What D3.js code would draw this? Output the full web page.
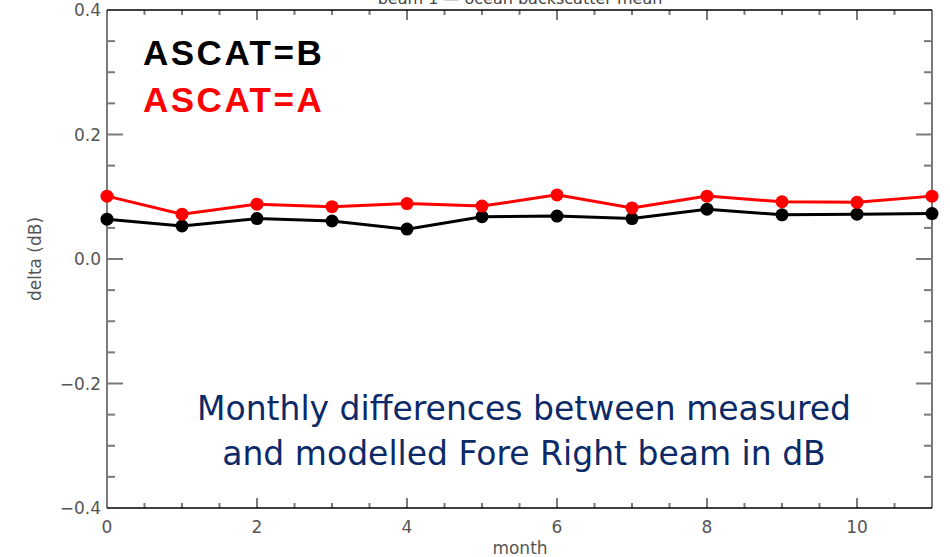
<!DOCTYPE html>
<html>
<head>
<meta charset="utf-8">
<script src="https://cdn.jsdelivr.net/npm/d3@7/dist/d3.min.js"></script>
<style>
  body { margin: 0; background: #fff; }
  svg { display: block; }
</style>
</head>
<body>
<div id="chart"></div>
<script>
  // monthly delta (dB)
  const months = [0, 1, 2, 3, 4, 5, 6, 7, 8, 9, 10, 11];
  const ascatA = [0.101, 0.072, 0.088, 0.084, 0.089, 0.085, 0.103, 0.082, 0.101, 0.092, 0.091, 0.101];
  const ascatB = [0.064, 0.053, 0.065, 0.061, 0.048, 0.068, 0.069, 0.065, 0.080, 0.071, 0.072, 0.073];
  const xTicks = [0, 2, 4, 6, 8, 10];
  const yTicks = [-0.4, -0.2, 0.0, 0.2, 0.4];

  const W = 950, H = 557;
  const margin = { left: 107, right: 18, top: 10, bottom: 49 };

  const svg = d3.select("#chart").append("svg").attr("width", W).attr("height", H);

  const x = d3.scaleLinear().domain([0, 11]).range([margin.left, W - margin.right]);
  const y = d3.scaleLinear().domain([-0.4, 0.4]).range([H - margin.bottom, margin.top]);

  const tickGray = "#7a7a7a";
  const labelFont = "'DejaVu Sans', sans-serif";

  // title sits mostly above the picture, as in the source image
  svg.append("text")
    .attr("x", 520).attr("y", 4)
    .attr("text-anchor", "middle")
    .attr("font-family", labelFont).attr("font-size", 16).attr("fill", "#444")
    .text("beam 1 \u2014 ocean backscatter mean");

  // minor / major ticks
  const xMinor = d3.range(0, 11.01, 0.5);
  const yMinor = d3.range(-0.4, 0.401, 0.05);
  const ticks = svg.append("g").attr("stroke", tickGray).attr("stroke-width", 2);

  xMinor.forEach((v) => {
    const major = Math.abs(v % 2) < 1e-6;
    const len = major ? 10 : 5;
    if (v <= 0 || v >= 11) return;
    ticks.append("line").attr("x1", x(v)).attr("x2", x(v))
      .attr("y1", y(-0.4)).attr("y2", y(-0.4) - len);
    ticks.append("line").attr("x1", x(v)).attr("x2", x(v))
      .attr("y1", y(0.4)).attr("y2", y(0.4) + len);
  });
  yMinor.forEach((v) => {
    const major = Math.abs(Math.round(v * 100) % 20) === 0;
    const len = major ? 16 : 8;
    if (Math.abs(v) >= 0.399) return;
    ticks.append("line").attr("x1", x(0)).attr("x2", x(0) + len)
      .attr("y1", y(v)).attr("y2", y(v));
    ticks.append("line").attr("x1", x(11)).attr("x2", x(11) - len)
      .attr("y1", y(v)).attr("y2", y(v));
  });

  // frame: gray sides, black top/bottom
  svg.append("line").attr("x1", x(0)).attr("x2", x(0)).attr("y1", y(0.4)).attr("y2", y(-0.4))
    .attr("stroke", tickGray).attr("stroke-width", 2);
  svg.append("line").attr("x1", x(11)).attr("x2", x(11)).attr("y1", y(0.4)).attr("y2", y(-0.4))
    .attr("stroke", tickGray).attr("stroke-width", 2);
  svg.append("line").attr("x1", x(0)).attr("x2", x(11)).attr("y1", y(0.4)).attr("y2", y(0.4))
    .attr("stroke", "#000").attr("stroke-width", 1.5);
  svg.append("line").attr("x1", x(0)).attr("x2", x(11)).attr("y1", y(-0.4)).attr("y2", y(-0.4))
    .attr("stroke", "#000").attr("stroke-width", 1.5);

  // tick labels
  svg.append("g").selectAll("text").data(xTicks).join("text")
    .attr("x", (d) => x(d)).attr("y", y(-0.4) + 25)
    .attr("text-anchor", "middle")
    .attr("font-family", labelFont).attr("font-size", 17).attr("fill", "#555")
    .text((d) => d);
  svg.append("g").selectAll("text").data(yTicks).join("text")
    .attr("x", x(0) - 6).attr("y", (d) => y(d) + 6)
    .attr("text-anchor", "end")
    .attr("font-family", labelFont).attr("font-size", 17).attr("fill", "#555")
    .text((d) => (d < 0 ? "\u2212" : "") + Math.abs(d).toFixed(1));

  svg.append("text")
    .attr("x", 520).attr("y", 554)
    .attr("text-anchor", "middle")
    .attr("font-family", labelFont).attr("font-size", 17).attr("fill", "#555")
    .text("month");
  svg.append("text")
    .attr("transform", `translate(41,${y(0)}) rotate(-90)`)
    .attr("text-anchor", "middle")
    .attr("font-family", labelFont).attr("font-size", 17).attr("fill", "#555")
    .text("delta (dB)");

  // series
  const series = [
    { values: ascatB, color: "#000" },
    { values: ascatA, color: "#ff0000" },
  ];
  const line = d3.line().x((d, i) => x(months[i])).y((d) => y(d));
  series.forEach((s) => {
    const g = svg.append("g");
    g.append("path").datum(s.values).attr("d", line)
      .attr("fill", "none").attr("stroke", s.color).attr("stroke-width", 3);
    g.selectAll("circle").data(s.values).join("circle")
      .attr("cx", (d, i) => x(months[i])).attr("cy", (d) => y(d))
      .attr("r", 6.5).attr("fill", s.color);
  });

  // legend
  const legendFont = "'Liberation Sans', Arial, sans-serif";
  svg.append("text").attr("x", 143).attr("y", 65)
    .attr("font-family", legendFont).attr("font-weight", "bold").attr("font-size", 35)
    .attr("letter-spacing", 2.5).attr("fill", "#000").text("ASCAT=B");
  svg.append("text").attr("x", 143).attr("y", 112)
    .attr("font-family", legendFont).attr("font-weight", "bold").attr("font-size", 35)
    .attr("letter-spacing", 2.5).attr("fill", "#ff0000").text("ASCAT=A");

  // annotation
  const note = ["Monthly differences between measured", "and modelled Fore Right beam in dB"];
  svg.append("g").selectAll("text").data(note).join("text")
    .attr("x", 524).attr("y", (d, i) => 420 + i * 45)
    .attr("text-anchor", "middle")
    .attr("font-family", "'DejaVu Sans', Verdana, sans-serif").attr("font-size", 33)
    .attr("fill", "#0c2a68")
    .text((d) => d);
</script>
</body>
</html>
